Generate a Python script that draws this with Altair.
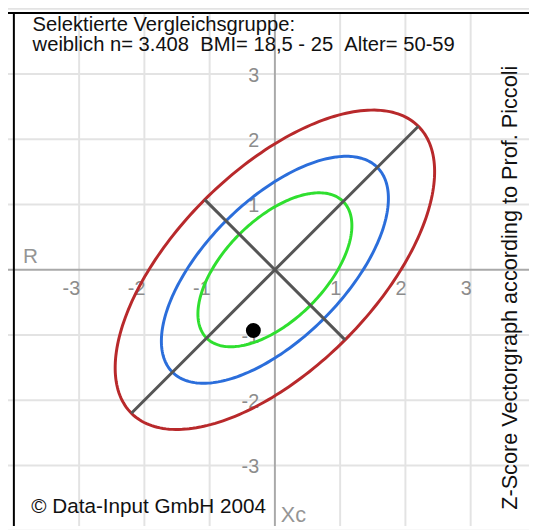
import math
import altair as alt
import pandas as pd

# ---------------- values ----------------
grid_vals = [-4, -3, -2, -1, 1, 2, 3, 4]
axis_vals = [0]
x_tick_vals = [-3, -2, -1, 1, 2, 3]
x_tick_labels = ["-3", "-2", "-1", "1", "2", "3"]
y_tick_vals = [-3, -2, -1, 1, 2, 3]
y_tick_labels = ["-3", "-2", "-1", "1", "2", "3"]

ellipse_names = ["95%", "75%", "50%"]
ellipse_semi_major = [3.11, 2.22, 1.48]
ellipse_semi_minor = [1.52, 1.06, 0.77]
ellipse_angle_deg = 45.0
ellipse_colors = ["#b8292b", "#2b6edb", "#2fdf2f"]

subject_r = [-0.33]
subject_xc = [-0.93]

header_lines = [
    "Selektierte Vergleichsgruppe:",
    "weiblich n= 3.408 \u00a0BMI= 18,5 - 25 \u00a0Alter= 50-59",
]
copyright_text = "\u00a9 Data-Input GmbH 2004"
r_label = "R"
xc_label = "Xc"
side_text = "Z-Score Vectorgraph according to Prof. Piccoli"

# ---------------- layout ----------------
W, H = 529, 522
X_DOM = [-4.09, 3.894]
Y_DOM = [-3.928, 3.952]
FONT = "Liberation Sans"


def X(field="x"):
    return alt.X(f"{field}:Q", scale=alt.Scale(domain=X_DOM, nice=False, zero=False), axis=None)


def Y(field="y"):
    return alt.Y(f"{field}:Q", scale=alt.Scale(domain=Y_DOM, nice=False, zero=False), axis=None)


# ---------------- tables built from the arrays ----------------
grid_df = pd.DataFrame({"v": grid_vals})
axis_df = pd.DataFrame({"v": axis_vals})
xt_df = pd.DataFrame({"x": x_tick_vals, "y": [0] * len(x_tick_vals), "t": x_tick_labels})
yt_df = pd.DataFrame({"x": [0] * len(y_tick_vals), "y": y_tick_vals, "t": y_tick_labels})

th = math.radians(ellipse_angle_deg)
rows = []
for name, a, b in zip(ellipse_names, ellipse_semi_major, ellipse_semi_minor):
    n = 240
    for i in range(n + 1):
        t = 2 * math.pi * i / n
        u, v = a * math.cos(t), b * math.sin(t)
        rows.append({"name": name, "i": i,
                     "x": u * math.cos(th) - v * math.sin(th),
                     "y": u * math.sin(th) + v * math.cos(th)})
ell_df = pd.DataFrame(rows)

a0, b0 = ellipse_semi_major[0], ellipse_semi_minor[0]
axes_df = pd.DataFrame({
    "x": [-a0 * math.cos(th), -b0 * math.sin(th)],
    "y": [-a0 * math.sin(th), b0 * math.cos(th)],
    "x2": [a0 * math.cos(th), b0 * math.sin(th)],
    "y2": [a0 * math.sin(th), -b0 * math.cos(th)],
})
pt_df = pd.DataFrame({"x": subject_r, "y": subject_xc})

hdr_df = pd.DataFrame({"x": [-3.713, -3.713], "y": [3.665, 3.355], "t": header_lines})
misc_df = pd.DataFrame({
    "x": [-3.733, -3.86],
    "y": [-3.727, 0.098],
    "t": [copyright_text, r_label],
    "c": ["#111111", "#959595"],
})
xc_df = pd.DataFrame({"x": [0.09], "y": [-3.862], "t": [xc_label]})
side_df = pd.DataFrame({"x": [3.713], "y": [-0.275], "t": [side_text]})

# ---------------- layers ----------------
vgrid = alt.Chart(grid_df).mark_rule(color="#e3e3e3", strokeWidth=2).encode(x=X("v"))
hgrid = alt.Chart(grid_df).mark_rule(color="#e3e3e3", strokeWidth=2).encode(y=Y("v"))
vaxis = alt.Chart(axis_df).mark_rule(color="#a9a9a9", strokeWidth=2).encode(x=X("v"))
haxis = alt.Chart(axis_df).mark_rule(color="#a9a9a9", strokeWidth=2).encode(y=Y("v"))
left_frame = alt.Chart(pd.DataFrame({"v": [-4]})).mark_rule(color="#000000", strokeWidth=2).encode(x=X("v"))
top_frame = alt.Chart(pd.DataFrame({"v": [0]})).mark_rule(color="#000000", strokeWidth=2).encode(y=alt.value(1))

xt = alt.Chart(xt_df).mark_text(font=FONT, fontSize=20, color="#8c8c8c", align="right",
                                baseline="alphabetic", dx=1, dy=26).encode(x=X(), y=Y(), text="t:N")
yt = alt.Chart(yt_df).mark_text(font=FONT, fontSize=20, color="#8c8c8c", align="right",
                                baseline="alphabetic", dx=-16, dy=7.8).encode(x=X(), y=Y(), text="t:N")

ell = alt.Chart(ell_df).mark_line(strokeWidth=3, clip=True).encode(
    x=X(), y=Y(), order="i:Q", detail="name:N",
    color=alt.Color("name:N", scale=alt.Scale(domain=ellipse_names, range=ellipse_colors), legend=None),
)
diag = alt.Chart(axes_df).mark_rule(color="#555555", strokeWidth=3).encode(
    x=X(), y=Y(), x2="x2:Q", y2="y2:Q")
pt = alt.Chart(pt_df).mark_point(filled=True, shape="circle", size=230, color="#000000", opacity=1).encode(
    x=X(), y=Y())

hdr = alt.Chart(hdr_df).mark_text(font=FONT, fontSize=20.5, color="#111111", align="left",
                                  baseline="alphabetic").encode(x=X(), y=Y(), text="t:N")
misc = alt.Chart(misc_df).mark_text(font=FONT, fontSize=21, align="left",
                                    baseline="alphabetic").encode(
    x=X(), y=Y(), text="t:N", color=alt.Color("c:N", scale=None))
xc = alt.Chart(xc_df).mark_text(font=FONT, fontSize=22, align="left", color="#959595",
                                baseline="alphabetic").encode(x=X(), y=Y(), text="t:N")
side = alt.Chart(side_df).mark_text(font=FONT, fontSize=22, color="#111111", align="center",
                                    baseline="alphabetic", angle=270).encode(x=X(), y=Y(), text="t:N")

chart = alt.layer(
    vgrid, hgrid, vaxis, haxis, left_frame, top_frame, xt, yt, ell, diag, pt, hdr, misc, xc, side
).properties(
    width=W, height=H, padding=0, autosize=alt.AutoSizeParams(type="none"), background="#ffffff"
).configure_view(stroke=None)

chart.save("out.html", embed_options={"renderer": "svg", "actions": False})
